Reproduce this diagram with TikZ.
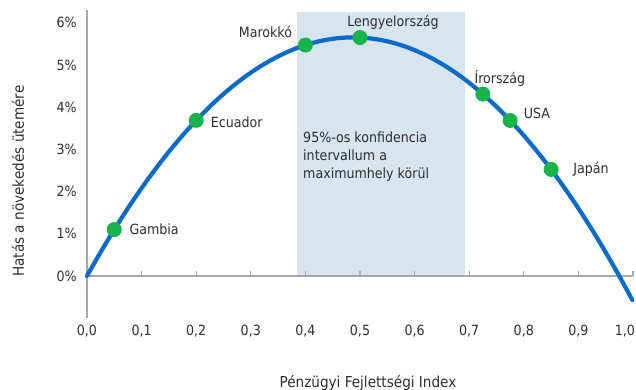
\documentclass[tikz,border=0pt]{standalone}
\usepackage{fontspec}
\setmainfont{DejaVu Sans Condensed}
\usetikzlibrary{positioning}

\definecolor{curveblue}{HTML}{0A6BC9}
\definecolor{dotgreen}{HTML}{17B34B}
\definecolor{bandblue}{HTML}{D7E5F1}
\definecolor{axisgray}{HTML}{A8A8A8}
\definecolor{txt}{HTML}{2E2E2E}

\begin{document}
\begin{tikzpicture}[x=16.38cm, y=1.266cm,
    declare function={growth(\x)=23.2*\x-23.8*\x*\x;},
    every node/.style={font=\fontsize{12pt}{15.3pt}\selectfont, text=txt},
    axis/.style={axisgray, line width=1.3pt},
    curve/.style={curveblue, line width=3.6pt, line cap=round},
    dot/.style={circle, fill=dotgreen, minimum size=0.45cm, inner sep=0pt},
    lbl/.style={inner sep=0pt},
    axtitle/.style={font=\fontsize{12.9pt}{15pt}\selectfont}]
    \useasboundingbox (-0.1593,-2.701) rectangle (1.0055,6.540);

    % confidence band
    \fill[bandblue] (0.3846,0) rectangle (0.6923,6.256);
    \node[lbl, anchor=west, align=left] (band) at (0.3956,2.82)
        {95\%-os konfidencia\\intervallum a\\maximumhely körül};

    % axes
    \draw[axis] (0,6.30) -- (0,-1.0);
    \draw[axis] (0,0) -- (1,0);
    \foreach \i in {1,...,10}
        \draw[axis, line width=0.9pt] (\i/10,0) -- (\i/10,0.11);
    \foreach \i in {0,...,9}
        \node (xt\i) at (\i/10,-1.30) {0,\i};
    \node[anchor=east, inner sep=0pt] (xt10) at (1.0040,-1.30) {1,0};
    \foreach \i in {0,...,6}
        \node[anchor=east, inner sep=0pt] (yt\i) at (-0.0183,\i) {\i\%};
    \node[axtitle] (xtitle) at (0.5147,-2.536) {Pénzügyi Fejlettségi Index};
    \node[axtitle, rotate=90] (ytitle) at (-0.1264,2.25) {Hatás a növekedés ütemére};

    % the curve
    \draw[curve] plot[domain=0:1, samples=120] (\x,{growth(\x)});

    % countries
    \node[dot] (gambia)  at (0.05,{growth(0.05)}) {};
    \node[dot] (ecuador) at (0.2,{growth(0.2)}) {};
    \node[dot] (marokko) at (0.4,{growth(0.4)}) {};
    \node[dot] (lengyel) at (0.5,{growth(0.5)}) {};
    \node[dot] (irorsz)  at (0.725,{growth(0.725)}) {};
    \node[dot] (usa)     at (0.775,{growth(0.775)}) {};
    \node[dot] (japan)   at (0.85,{growth(0.85)}) {};

    \node[lbl, right=0.22cm of gambia] (gambiaL) {Gambia};
    \node[lbl, right=0.2cm of ecuador, yshift=-0.05cm] (ecuadorL) {Ecuador};
    \node[lbl, above left=0.05cm and 0.23cm of marokko] (marokkoL) {Marokkó};
    \node[lbl, above=0cm of lengyel, xshift=0.99cm] (lengyelL) {Lengyelország};
    \node[lbl, above=0cm of irorsz, xshift=0.51cm] (irorszL) {Írország};
    \node[lbl, right=0.17cm of usa, yshift=0.2cm] (usaL) {USA};
    \node[lbl, right=0.43cm of japan] (japanL) {Japán};
\end{tikzpicture}
\end{document}
